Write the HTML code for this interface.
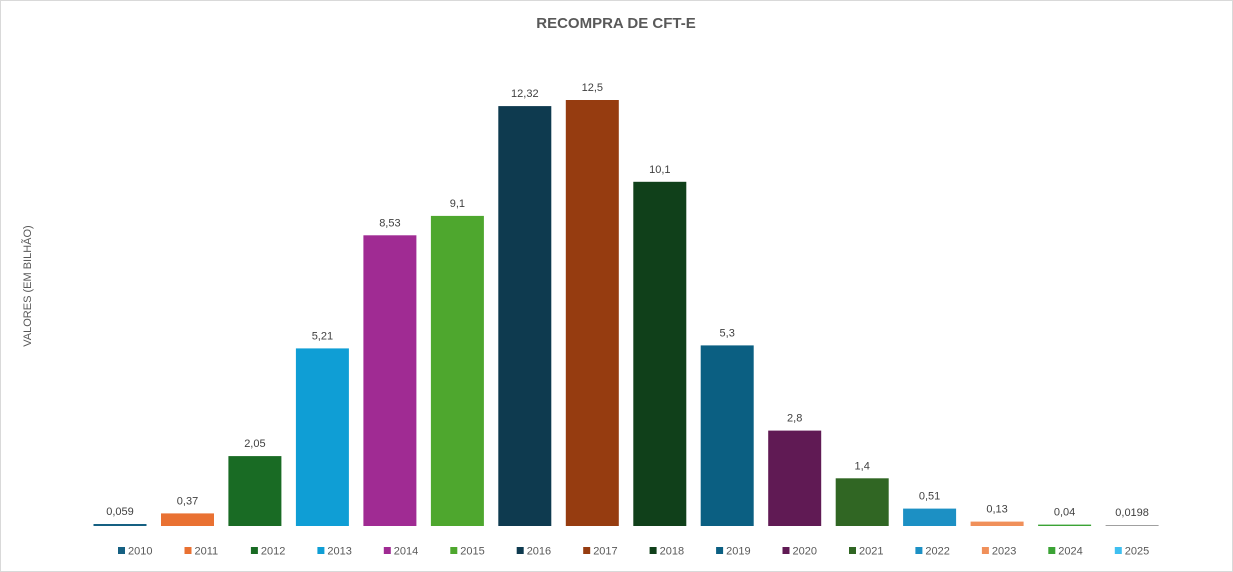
<!DOCTYPE html>
<html><head><meta charset="utf-8"><style>
body{margin:0;background:#fff;}
svg{display:block;font-family:"Liberation Sans",sans-serif;}
</style></head><body>
<svg width="1233" height="572" viewBox="0 0 1233 572">
<rect x="0.5" y="0.5" width="1232" height="571" fill="#fff" stroke="#d9d9d9"/>
<text x="616" y="28" text-anchor="middle" font-size="15" font-weight="bold" fill="#595959">RECOMPRA DE CFT-E</text>
<text transform="translate(31,286) rotate(-90)" text-anchor="middle" font-size="11" fill="#595959">VALORES (EM BILHÃO)</text>
<g>
<rect x="93.5" y="524" width="53" height="2" fill="#156082"/>
<rect x="161" y="513.4" width="53" height="12.6" fill="#E97132"/>
<rect x="228.4" y="456.1" width="53" height="69.9" fill="#196B24"/>
<rect x="295.9" y="348.4" width="53" height="177.6" fill="#0F9ED5"/>
<rect x="363.4" y="235.3" width="53" height="290.7" fill="#A02B93"/>
<rect x="430.9" y="215.9" width="53" height="310.1" fill="#4EA72E"/>
<rect x="498.3" y="106.1" width="53" height="419.9" fill="#0E3A4F"/>
<rect x="565.8" y="100" width="53" height="426" fill="#963C10"/>
<rect x="633.3" y="181.8" width="53" height="344.2" fill="#10401A"/>
<rect x="700.7" y="345.4" width="53" height="180.6" fill="#0B5F82"/>
<rect x="768.2" y="430.6" width="53" height="95.4" fill="#601A54"/>
<rect x="835.7" y="478.3" width="53" height="47.7" fill="#306623"/>
<rect x="903.1" y="508.6" width="53" height="17.4" fill="#1C90C4"/>
<rect x="970.6" y="521.6" width="53" height="4.4" fill="#F0905A"/>
<rect x="1038.1" y="524.6" width="53" height="1.4" fill="#3BA335"/>
<rect x="1105.6" y="525" width="53" height="1" fill="#A0A0A0"/>
</g>
<g font-size="11" fill="#404040" text-anchor="middle">
<text x="120" y="515">0,059</text>
<text x="187.5" y="504.4">0,37</text>
<text x="254.9" y="447.1">2,05</text>
<text x="322.4" y="339.4">5,21</text>
<text x="389.9" y="226.3">8,53</text>
<text x="457.4" y="206.9">9,1</text>
<text x="524.8" y="97.1">12,32</text>
<text x="592.3" y="91">12,5</text>
<text x="659.8" y="172.8">10,1</text>
<text x="727.2" y="336.4">5,3</text>
<text x="794.7" y="421.6">2,8</text>
<text x="862.2" y="469.3">1,4</text>
<text x="929.6" y="499.6">0,51</text>
<text x="997.1" y="512.6">0,13</text>
<text x="1064.6" y="515.6">0,04</text>
<text x="1132.1" y="516">0,0198</text>
</g>
<g font-size="11" fill="#595959">
<rect x="118" y="547" width="7" height="7" fill="#156082"/><text x="128" y="554.5">2010</text>
<rect x="184.5" y="547" width="7" height="7" fill="#E97132"/><text x="194.5" y="554.5">2011</text>
<rect x="250.9" y="547" width="7" height="7" fill="#196B24"/><text x="260.9" y="554.5">2012</text>
<rect x="317.4" y="547" width="7" height="7" fill="#0F9ED5"/><text x="327.4" y="554.5">2013</text>
<rect x="383.8" y="547" width="7" height="7" fill="#A02B93"/><text x="393.8" y="554.5">2014</text>
<rect x="450.3" y="547" width="7" height="7" fill="#4EA72E"/><text x="460.3" y="554.5">2015</text>
<rect x="516.7" y="547" width="7" height="7" fill="#0E3A4F"/><text x="526.7" y="554.5">2016</text>
<rect x="583.2" y="547" width="7" height="7" fill="#963C10"/><text x="593.2" y="554.5">2017</text>
<rect x="649.6" y="547" width="7" height="7" fill="#10401A"/><text x="659.6" y="554.5">2018</text>
<rect x="716.1" y="547" width="7" height="7" fill="#0B5F82"/><text x="726.1" y="554.5">2019</text>
<rect x="782.5" y="547" width="7" height="7" fill="#601A54"/><text x="792.5" y="554.5">2020</text>
<rect x="849" y="547" width="7" height="7" fill="#306623"/><text x="859" y="554.5">2021</text>
<rect x="915.4" y="547" width="7" height="7" fill="#1C90C4"/><text x="925.4" y="554.5">2022</text>
<rect x="981.9" y="547" width="7" height="7" fill="#F0905A"/><text x="991.9" y="554.5">2023</text>
<rect x="1048.3" y="547" width="7" height="7" fill="#3BA335"/><text x="1058.3" y="554.5">2024</text>
<rect x="1114.8" y="547" width="7" height="7" fill="#3FBFF0"/><text x="1124.8" y="554.5">2025</text>
</g>
</svg>
</body></html>
